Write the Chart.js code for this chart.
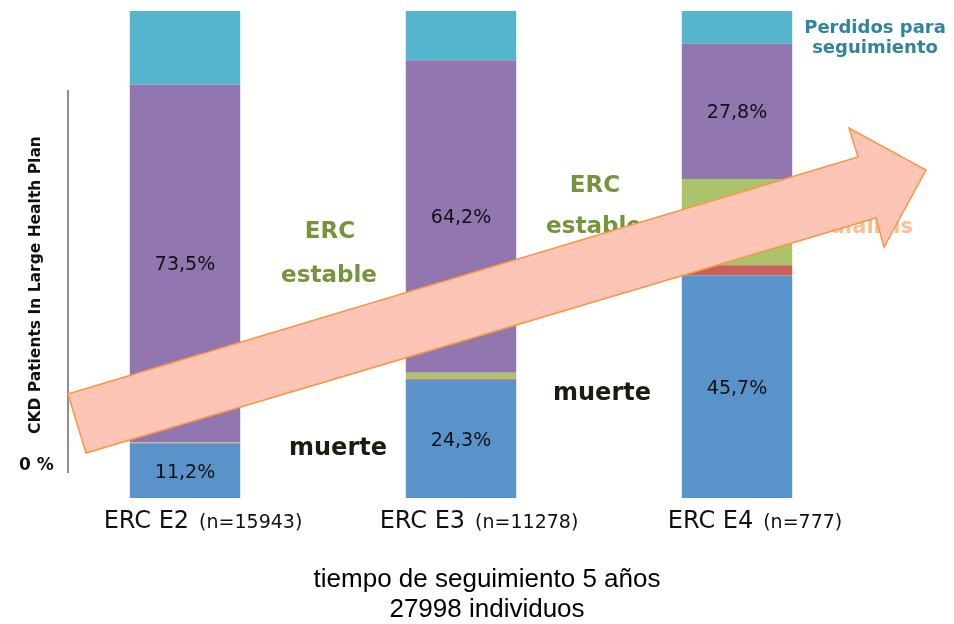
<!DOCTYPE html>
<html lang="es">
<head>
<meta charset="UTF-8">
<title>Evolución de la ERC a 5 años</title>
<script src="https://cdn.jsdelivr.net/npm/chart.js"></script>
<style>
  body { margin: 0; background: #fff; }
  #grafico { display: block; }
</style>
</head>
<body>
<canvas id="grafico" width="954" height="624"></canvas>
<script>
// estadios y porcentajes de cada desenlace (suman 100 por barra)
const estadios = ['ERC E2', 'ERC E3', 'ERC E4'];
const pacientes = [15943, 11278, 777];
const muerte = [11.2, 24.3, 45.7];
const dialisis = [0.1, 0.2, 2.1];
const progresion = [0.1, 1.2, 17.7];
const estable = [73.5, 64.2, 27.8];
const perdidos = [15.1, 10.1, 6.7];
const rangoY = [0, 100];

const fmt = v => v.toFixed(1).replace('.', ',') + '%';
const SANS = '"DejaVu Sans", Verdana, sans-serif';

// rótulos, eje decorativo y flecha
const anotaciones = {
  id: 'anotaciones',
  afterDatasetsDraw(chart) {
    const c = chart.ctx;
    const x = chart.scales.x;
    c.save();

    // porcentajes en el centro de los segmentos marcados
    c.font = '19px ' + SANS;
    c.fillStyle = '#111';
    c.textAlign = 'center';
    c.textBaseline = 'middle';
    chart.data.datasets.forEach((ds, i) => {
      if (!ds.rotulado) return;
      chart.getDatasetMeta(i).data.forEach((bar, j) => {
        const p = bar.getProps(['x', 'y', 'base'], true);
        c.fillText(fmt(ds.data[j]), p.x, (p.y + p.base) / 2 + 2);
      });
    });

    // etiquetas de categoría: nombre grande + n pequeño
    c.textBaseline = 'alphabetic';
    c.textAlign = 'left';
    estadios.forEach((nombre, i) => {
      const sub = '(n=' + pacientes[i] + ')';
      c.font = '24px ' + SANS;
      const w1 = c.measureText(nombre).width;
      c.font = '19px ' + SANS;
      const w2 = c.measureText(sub).width;
      const x0 = x.getPixelForValue(i) + 18 - (w1 + 10 + w2) / 2;
      c.fillStyle = '#111';
      c.font = '24px ' + SANS;
      c.fillText(nombre, x0, 528);
      c.font = '19px ' + SANS;
      c.fillText(sub, x0 + w1 + 10, 528);
    });

    // textos de desenlace
    c.textAlign = 'center';
    c.font = 'bold 23px ' + SANS;
    c.fillStyle = '#77933C';
    c.fillText('ERC', 330, 238);
    c.fillText('estable', 329, 282);
    c.fillText('ERC', 595, 192);
    c.fillText('estable', 594, 233);
    c.font = 'bold 24px ' + SANS;
    c.fillStyle = '#1D1B10';
    c.fillText('muerte', 338, 455);
    c.fillText('muerte', 602, 400);
    c.font = 'bold 21px ' + SANS;
    c.fillStyle = '#FAC090';
    c.textAlign = 'right';
    c.fillText('diálisis', 913, 233);
    c.textAlign = 'center';
    c.font = 'bold 18px ' + SANS;
    c.fillStyle = '#31849B';
    c.fillText('Perdidos para', 875, 33);
    c.fillText('seguimiento', 875, 53);

    // eje vertical heredado
    c.strokeStyle = '#444';
    c.lineWidth = 1.2;
    c.beginPath();
    c.moveTo(68, 90);
    c.lineTo(68, 473);
    c.stroke();
    c.fillStyle = '#111';
    c.font = 'bold 17px ' + SANS;
    c.textAlign = 'left';
    c.fillText('0 %', 19, 470);
    c.save();
    c.translate(40, 285);
    c.rotate(-Math.PI / 2);
    c.textAlign = 'center';
    c.font = 'bold 15.5px ' + SANS;
    c.fillText('CKD Patients In Large Health Plan', 0, 0);
    c.restore();

    // pie
    c.textAlign = 'center';
    c.font = '26px "Liberation Sans", Arial, sans-serif';
    c.fillStyle = '#000';
    c.fillText('tiempo de seguimiento 5 años', 487, 587);
    c.fillText('27998 individuos', 487, 617);

    // flecha de tendencia
    const flecha = [[68, 394], [858, 157], [849, 128], [926, 170],
                    [884, 247], [876, 218], [86, 453]];
    c.beginPath();
    flecha.forEach(([px, py], k) => k ? c.lineTo(px, py) : c.moveTo(px, py));
    c.closePath();
    c.fillStyle = '#FDC5B5';
    c.fill();
    c.strokeStyle = '#F79646';
    c.lineWidth = 1.5;
    c.stroke();

    c.restore();
  }
};

new Chart(document.getElementById('grafico'), {
  type: 'bar',
  data: {
    labels: estadios,
    datasets: [
      { label: 'Muerte', data: muerte, backgroundColor: '#5A93CA', rotulado: true },
      { label: 'Diálisis', data: dialisis, backgroundColor: '#C95F5A' },
      { label: 'Progresión', data: progresion, backgroundColor: '#ABC46C' },
      { label: 'ERC estable', data: estable, backgroundColor: '#9276AF', rotulado: true },
      { label: 'Perdidos para seguimiento', data: perdidos, backgroundColor: '#54B5CC' }
    ]
  },
  options: {
    responsive: false,
    animation: false,
    layout: { padding: { left: 47, right: 79, top: 11, bottom: 126 } },
    datasets: { bar: { barPercentage: 0.4, categoryPercentage: 1 } },
    plugins: { legend: { display: false }, tooltip: { enabled: false } },
    scales: {
      x: { stacked: true, display: false },
      y: { stacked: true, display: false, min: rangoY[0], max: rangoY[1] }
    }
  },
  plugins: [anotaciones]
});
</script>
</body>
</html>
